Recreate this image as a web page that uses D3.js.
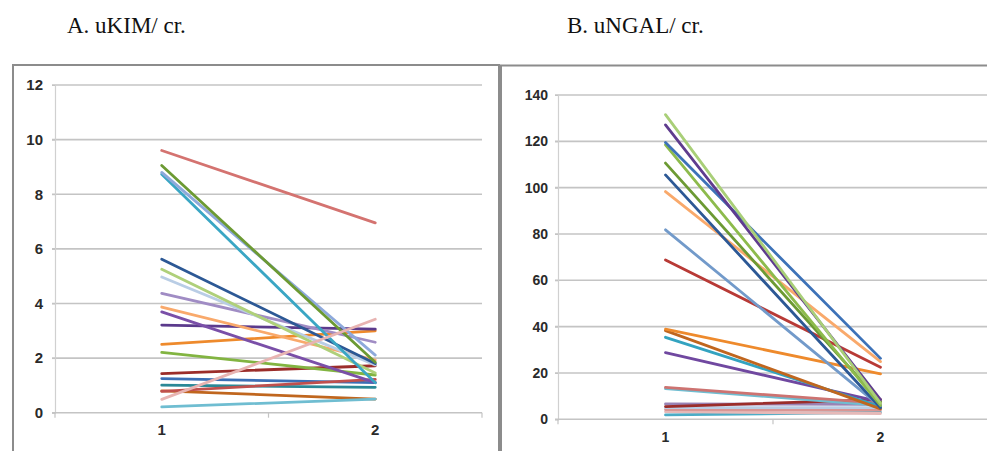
<!DOCTYPE html>
<html>
<head>
<meta charset="utf-8">
<script src="https://cdn.jsdelivr.net/npm/d3@7"></script>
<style>
  html, body { margin: 0; padding: 0; background: #fff; }
  svg { display: block; }
  .title { font-family: "Liberation Serif", "Times New Roman", serif; font-size: 23px; fill: #111; }
  .tick text { font-family: "Liberation Sans", Arial, sans-serif; font-weight: bold; fill: #2a2a2a; }
</style>
</head>
<body>
<svg id="chart" width="987" height="451"></svg>
<script>
// x categories (time points)
const categories = ["1", "2"];

// A. uKIM/cr. – one [point 1, point 2] pair per patient
const kimValues = [
  [0.80, 0.50], [0.21, 0.50], [1.01, 0.93], [1.25, 1.10], [0.78, 1.22],
  [1.43, 1.72], [2.21, 1.38], [2.50, 3.00], [3.21, 3.06], [3.69, 1.10],
  [3.87, 1.93], [4.37, 2.58], [4.97, 1.75], [5.25, 1.45], [5.62, 1.80],
  [8.73, 1.10], [8.80, 2.11], [9.05, 1.85], [9.60, 6.95], [0.49, 3.42]
];
const kimColors = [
  "#c0661e", "#6fbdd1", "#2a8896", "#3b6fb6", "#c0504d",
  "#9b2d2a", "#82b441", "#ee8a2c", "#5b3a8c", "#7a4fa8",
  "#f9a96b", "#a08cc4", "#b9cde5", "#afd07a", "#2c5895",
  "#3aa6c4", "#8ea9db", "#6c9a33", "#d47370", "#e8b4b2"
];
const kimTicks = [0, 2, 4, 6, 8, 10, 12];

// B. uNGAL/cr.
const ngalValues = [
  [1.9, 3.0], [3.3, 2.5], [4.2, 4.0], [5.0, 5.0], [6.6, 6.5],
  [5.5, 8.5], [13.2, 6.0], [13.8, 7.0], [28.8, 7.5], [35.4, 5.5],
  [38.3, 4.5], [38.9, 19.6], [68.8, 22.5], [81.8, 5.5], [98.3, 24.9],
  [105.5, 5.0], [110.6, 7.5], [118.5, 6.0], [119.5, 26.3], [127.1, 8.5],
  [131.5, 7.0]
];
const ngalColors = [
  "#4bacc6", "#e6b9b8", "#d99694", "#b9cde5", "#9983b5",
  "#9b2d2a", "#6fbdd1", "#cd7371", "#7048a0", "#33a3c0",
  "#c0661e", "#ee8a2c", "#b83a36", "#729aca", "#f9a96b",
  "#2c5895", "#6c9a33", "#8dbb4c", "#3d72b8", "#5f3c8e",
  "#a9cf78"
];
const ngalTicks = [0, 20, 40, 60, 80, 100, 120, 140];

const svg = d3.select("#chart");

// panel frames
svg.append("rect")
  .attr("x", 13).attr("y", 65).attr("width", 486).attr("height", 400)
  .attr("fill", "#fff").attr("stroke", "#8c8c8c").attr("stroke-width", 2);
svg.append("rect")
  .attr("x", 501).attr("y", 65.5).attr("width", 500).attr("height", 400)
  .attr("fill", "#fff").attr("stroke", "#8c8c8c").attr("stroke-width", 2);

// titles
svg.append("text").attr("class", "title").attr("x", 67).attr("y", 33).text("A. uKIM/ cr.");
svg.append("text").attr("class", "title").attr("x", 567).attr("y", 33).text("B. uNGAL/ cr.");

function drawPanel(cfg) {
  const g = svg.append("g");

  const x = d3.scaleBand()
    .domain(categories)
    .range([cfg.left, cfg.right])
    .paddingInner(0).paddingOuter(0);

  const y = d3.scaleLinear()
    .domain([0, d3.max(cfg.ticks)])
    .range([cfg.bottom, cfg.top]);

  // gridlines
  g.append("g")
    .selectAll("line")
    .data(cfg.ticks.filter(t => t > 0))
    .join("line")
      .attr("x1", cfg.left - 3).attr("x2", cfg.right)
      .attr("y1", d => y(d)).attr("y2", d => y(d))
      .attr("stroke", "#c4c4c4").attr("stroke-width", 1.6);

  // y axis
  const yAxis = g.append("g")
    .attr("transform", `translate(${cfg.left},0)`)
    .call(d3.axisLeft(y).tickValues(cfg.ticks).tickSize(3).tickPadding(cfg.pad));
  yAxis.select(".domain").attr("stroke", "#d0d0d0").attr("stroke-width", 1.2);
  yAxis.selectAll(".tick line").attr("stroke", "#c4c4c4");
  yAxis.selectAll(".tick text").style("font-size", cfg.font + "px");

  // x axis
  const xAxis = g.append("g")
    .attr("transform", `translate(0,${cfg.bottom})`)
    .call(d3.axisBottom(x).tickSize(0).tickPadding(cfg.xpad));
  xAxis.select(".domain").remove();
  xAxis.selectAll(".tick text").style("font-size", cfg.font + "px");
  g.append("line")
    .attr("x1", cfg.left - 3).attr("x2", cfg.right)
    .attr("y1", cfg.bottom).attr("y2", cfg.bottom)
    .attr("stroke", "#c4c4c4").attr("stroke-width", 1.6);
  // category boundary ticks
  g.append("g")
    .selectAll("line")
    .data(categories.concat(["end"]))
    .join("line")
      .attr("x1", (d, i) => cfg.left + i * x.bandwidth())
      .attr("x2", (d, i) => cfg.left + i * x.bandwidth())
      .attr("y1", cfg.bottom).attr("y2", cfg.bottom + 5)
      .attr("stroke", "#c4c4c4").attr("stroke-width", 1.2);

  // series lines
  const line = d3.line()
    .x((d, i) => x(categories[i]) + x.bandwidth() / 2)
    .y(d => y(d));

  g.append("g")
    .selectAll("path")
    .data(cfg.values)
    .join("path")
      .attr("d", line)
      .attr("fill", "none")
      .attr("stroke", (d, i) => cfg.colors[i])
      .attr("stroke-width", 2.8)
      .attr("stroke-linecap", "round");
}

drawPanel({ left: 55, right: 482, top: 85, bottom: 412.7, ticks: kimTicks,
            values: kimValues, colors: kimColors, font: 15, pad: 9, xpad: 12 });
drawPanel({ left: 558, right: 988, top: 95, bottom: 419.3, ticks: ngalTicks,
            values: ngalValues, colors: ngalColors, font: 14, pad: 7, xpad: 13 });
</script>
</body>
</html>
